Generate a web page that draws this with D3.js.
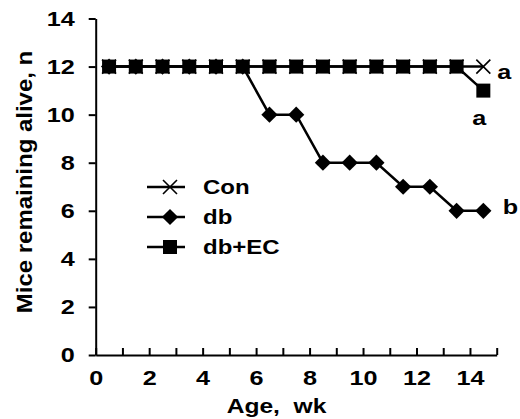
<!DOCTYPE html>
<html>
<head>
<meta charset="utf-8">
<script src="https://cdn.jsdelivr.net/npm/d3@7.9.0/dist/d3.min.js"></script>
<style>
  body { margin: 0; background: #fff; }
  svg { display: block; font-family: "Liberation Sans", Arial, sans-serif; font-weight: bold; }
</style>
</head>
<body>
<div id="chart"></div>
<script>
// weeks where the mice were counted
const weeks = [0.5, 1.5, 2.5, 3.5, 4.5, 5.5, 6.5, 7.5, 8.5, 9.5, 10.5, 11.5, 12.5, 13.5, 14.5];
const conAlive = [12, 12, 12, 12, 12, 12, 12, 12, 12, 12, 12, 12, 12, 12, 12];
const dbAlive = [12, 12, 12, 12, 12, 12, 10, 10, 8, 8, 8, 7, 7, 6, 6];
const dbEcAlive = [12, 12, 12, 12, 12, 12, 12, 12, 12, 12, 12, 12, 12, 12, 11];
const groupNames = ["Con", "db", "db+EC"];
const sigLetters = ["a", "b", "a"];
const yTicks = [0, 2, 4, 6, 8, 10, 12, 14];
const xTicks = d3.range(0, 16);

const width = 520;
const height = 419;
const stretch = 1.2; // the original figure text is a bit wide

const svg = d3.select('#chart')
    .append('svg')
    .attr('width', width)
    .attr('height', height);

const xScale = d3.scaleLinear().domain([0, 15]).range([95.7, 496.7]);
const yScale = d3.scaleLinear().domain([0, 14]).range([355, 18.5]);

const series = [
    { name: groupNames[0], values: conAlive, marker: 'times' },
    { name: groupNames[1], values: dbAlive, marker: 'diamond' },
    { name: groupNames[2], values: dbEcAlive, marker: 'square' }
];

function drawMarker(g, type) {
    if (type === 'times') {
        g.append('path')
            .attr('d', 'M-7,-7L7,7M-7,7L7,-7')
            .attr('stroke', '#000')
            .attr('stroke-width', 1.6)
            .attr('fill', 'none');
    } else if (type === 'diamond') {
        g.append('path')
            .attr('d', d3.symbol(d3.symbolSquare, 132)())
            .attr('transform', 'rotate(45)')
            .attr('fill', '#000');
    } else {
        g.append('path')
            .attr('d', d3.symbol(d3.symbolSquare, 196)())
            .attr('fill', '#000');
    }
}

// place a wide text at (x, y)
function wideText(sel, x, y, size, str, anchor) {
    return sel.append('text')
        .attr('transform', `translate(${x}, ${y}) scale(${stretch}, 1)`)
        .attr('text-anchor', anchor || 'start')
        .attr('font-size', size + 'px')
        .attr('fill', '#000')
        .attr('xml:space', 'preserve')
        .text(str);
}

// axes
const xAxis = d3.axisBottom(xScale)
    .tickValues(xTicks)
    .tickSizeInner(-7)
    .tickSizeOuter(0)
    .tickPadding(15)
    .tickFormat((d) => (d % 2 === 0 && d <= 14) ? d : '');

const yAxis = d3.axisLeft(yScale)
    .tickValues(yTicks)
    .tickSizeInner(7)
    .tickSizeOuter(0)
    .tickPadding(14);

const gx = svg.append('g')
    .attr('transform', `translate(0, ${yScale(0)})`)
    .call(xAxis);

const gy = svg.append('g')
    .attr('transform', `translate(${xScale(0)}, 0)`)
    .call(yAxis);

[gx, gy].forEach((g) => {
    g.selectAll('path, line').attr('stroke', '#000').attr('stroke-width', 2);
    g.selectAll('text')
        .attr('fill', '#000')
        .style('font-size', '21px')
        .style('font-weight', 'bold')
        .style('font-family', '"Liberation Sans", Arial, sans-serif')
        .each(function () {
            const t = d3.select(this);
            const x = +t.attr('x') || 0;
            const y = +t.attr('y') || 0;
            t.attr('x', 0).attr('y', 0)
             .attr('transform', `translate(${x}, ${y}) scale(${stretch}, 1)`);
        });
});

// series lines and markers
const line = d3.line()
    .x((d, i) => xScale(weeks[i]))
    .y((d) => yScale(d));

series.forEach((s) => {
    svg.append('path')
        .datum(s.values)
        .attr('d', line)
        .attr('fill', 'none')
        .attr('stroke', '#000')
        .attr('stroke-width', 2.5);

    const marks = svg.append('g');
    s.values.forEach((v, i) => {
        const m = marks.append('g')
            .attr('transform', `translate(${xScale(weeks[i])}, ${yScale(v)})`);
        drawMarker(m, s.marker);
    });
});

// significance letters
const last = weeks.length - 1;
wideText(svg, xScale(weeks[last]) + 21, yScale(conAlive[last]) + 12, 21, sigLetters[0], 'middle');
wideText(svg, xScale(weeks[last]) + 27, yScale(dbAlive[last]) + 3, 21, sigLetters[1], 'middle');
wideText(svg, xScale(weeks[last]) - 4, yScale(dbEcAlive[last]) + 34, 21, sigLetters[2], 'middle');

// legend
const legend = svg.append('g').attr('transform', 'translate(147, 187)');
series.forEach((s, i) => {
    const row = legend.append('g').attr('transform', `translate(0, ${i * 30})`);
    row.append('line')
        .attr('x1', 0).attr('x2', 38)
        .attr('stroke', '#000').attr('stroke-width', 2.5);
    const m = row.append('g').attr('transform', 'translate(23, 0)');
    drawMarker(m, s.marker);
    wideText(row, 56, 7, 20, s.name);
});

// axis titles
wideText(svg, 276.5, 413, 20.5, 'Age,  wk', 'middle');

svg.append('text')
    .attr('transform', 'translate(32, 182) rotate(-90) scale(1.09, 1)')
    .attr('text-anchor', 'middle')
    .attr('font-size', '22px')
    .attr('fill', '#000')
    .text('Mice remaining alive, n');
</script>
</body>
</html>
